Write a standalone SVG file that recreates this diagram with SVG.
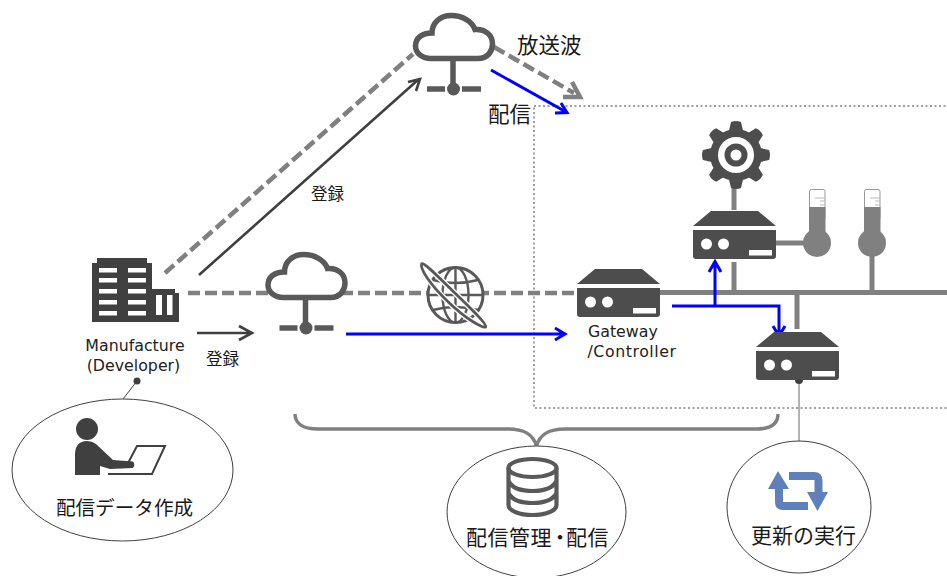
<svg xmlns="http://www.w3.org/2000/svg" width="947" height="576" viewBox="0 0 947 576">
<style>
text{font-family:"Noto Sans CJK JP","DejaVu Sans",sans-serif;fill:#1a1a1a}
.lat{font-family:"DejaVu Sans","Noto Sans CJK JP",sans-serif;font-size:15.800px;fill:#222}
.gbus{stroke:#808080;stroke-width:5;fill:none}
.gd{stroke:#808080;stroke-width:4.500;fill:none;stroke-dasharray:12 5}
.dk{stroke:#404040;stroke-width:2.600;fill:none}
.bl{stroke:#0000ff;stroke-width:3;fill:none}
.oval{fill:#fff;stroke:#404040;stroke-width:1}
.ic{fill:#4d4d4d}
</style>
<defs>
<g id="device">
<path class="ic" d="M18 0H65L83 15H0Z"/>
<path class="ic" d="M0 19H83V45Q83 48 80 48H3Q0 48 0 45Z"/>
<circle cx="13.500" cy="33" r="5.500" fill="#fff"/><circle cx="30.500" cy="33" r="5.500" fill="#fff"/>
<rect x="56" y="39" width="23" height="5.500" fill="#fff"/>
</g>
<g id="cloud">
<path d="M431 58.500H478C488 58.500 492.500 51 492.500 44C492.500 35 485 28.500 475 29.500C472 21 462 15.500 451 15.500C440 15.500 432 23 432 33C422 33 415.500 38 415.500 46C415.500 53 422 58.500 431 58.500Z" fill="#fff" stroke="#595959" stroke-width="5.500"/>
<path d="M453 60V84" stroke="#595959" stroke-width="5.500"/>
<circle cx="453.500" cy="89" r="6.500" fill="#595959"/>
<path d="M427 89H445M462 89H481" stroke="#595959" stroke-width="5.500"/>
</g>
<path id="tooth" class="ic" d="M-5 -33Q0 -35 5 -33L8 -20H-8Z"/>
</defs>
<g id="zone"><rect x="534" y="106" width="440" height="302" fill="none" stroke="#808080" stroke-width="1.500" stroke-dasharray="2 2.500"/></g>
<g id="connectors">
<path class="gd" d="M165 273L413 54"/>
<path class="gd" d="M494 47L574 93"/>
<path d="M563 97H580L572 82" fill="none" stroke="#808080" stroke-width="4.500"/>
<path class="gd" d="M188 293H577"/>
<path class="dk" d="M199 275L419 79M408 82L420 79L416 91"/>
<path class="dk" d="M197 333H252M239 326L252 333L239 340"/>
<path class="gbus" d="M660 292.500H947M734 262V292M797 293V329M734 185V210M775 243H806M872 255V292"/>
<path class="bl" d="M346 334H565M555 328L565 334L555 340"/>
<path class="bl" d="M491 70L567 112.500M555 113L567 112.500L561 103"/>
<path class="bl" d="M672 306H779V336M773 326L779 336L785 326"/>
<path class="bl" d="M715 306V262M709 272L715 261.500L721 272"/>
<path d="M123 399L137 381" stroke="#404040" stroke-width="1" fill="none"/>
<circle cx="137" cy="381" r="3.500" fill="#404040"/>
<path d="M799 381V441" stroke="#808080" stroke-width="1.200" fill="none"/>
<circle cx="799" cy="380" r="4" fill="#404040"/>
<path d="M295 414C295 424 304 429 318 429H508C524 429 533 434 536.500 446C540 434 549 429 565 429H756C770 429 778 424 778 414M536.500 442V448" fill="none" stroke="#808080" stroke-width="3.500"/>
</g>
<g id="cloud-broadcast"><use href="#cloud"/></g>
<g id="cloud-internet"><use href="#cloud" transform="translate(-147.500 239)"/></g>
<g id="manufacture">
<path d="M97 258H147V263H152V289H175V293H179V322H92V263H97Z" fill="#404040"/>
<path d="M99 268h18v4.500h-18zM128 268h18v4.500h-18zM99 278h18v4.500h-18zM128 278h18v4.500h-18zM99 289h18v4.500h-18zM128 289h18v4.500h-18zM99 300h18v4.500h-18zM128 300h18v4.500h-18zM99 311h18v4.500h-18zM128 311h18v4.500h-18zM156 295h6v20h-6zM167 295h5.500v20h-5.500z" fill="#fff"/>
<text class="lat" x="135" y="351" text-anchor="middle">Manufacture</text>
<text class="lat" x="133.500" y="371" text-anchor="middle">(Developer)</text>
</g>
<g id="globe" fill="none" stroke="#595959">
<circle cx="455.500" cy="295" r="27.500" fill="#fff" stroke-width="3"/>
<ellipse cx="455.500" cy="295" rx="13" ry="27.500" stroke-width="2.400"/>
<path d="M455.500 267.500V322.500M428 295H483M433 280Q455 286 478 280M433 310Q455 304 478 310" stroke-width="2.400"/>
<g transform="rotate(44 454 295)">
<path d="M409 295C410 292 430 293 454 293C478 293 498 293 499 296C498 299 480 304 454 304C430 304 411 300 409 295Z" stroke="#fff" stroke-width="5.500"/>
<path d="M409 295C410 292 430 293 454 293C478 293 498 293 499 296C498 299 480 304 454 304C430 304 411 300 409 295Z" stroke-width="2.800"/>
</g>
</g>
<g id="gateway">
<use href="#device" transform="translate(577 269)"/>
<text class="lat" x="588" y="337">Gateway</text>
<text class="lat" x="587.500" y="357" textLength="88.500">/Controller</text>
</g>
<g id="device-gear"><use href="#device" transform="translate(693 211)"/></g>
<g id="device-exec"><use href="#device" transform="translate(756 332)"/></g>
<g id="gear" transform="translate(736 155)">
<circle class="ic" r="26"/>
<use href="#tooth"/><use href="#tooth" transform="rotate(45)"/><use href="#tooth" transform="rotate(90)"/><use href="#tooth" transform="rotate(135)"/><use href="#tooth" transform="rotate(180)"/><use href="#tooth" transform="rotate(225)"/><use href="#tooth" transform="rotate(270)"/><use href="#tooth" transform="rotate(315)"/>
<circle r="18" fill="#fff"/><circle class="ic" r="11.500"/><circle r="5.500" fill="#fff"/>
</g>
<g id="thermo-1">
<rect x="809.500" y="189.500" width="15.500" height="30" rx="2" fill="#fff" stroke="#999" stroke-width="1"/>
<path d="M809 207H825.500V232H809Z" fill="#808080"/><circle cx="817" cy="243" r="14" fill="#808080"/>
<path d="M815 198H825M820 201H825M820 205H825" stroke="#bbb" stroke-width="1"/>
</g>
<g id="thermo-2">
<rect x="864.500" y="189.500" width="15.500" height="30" rx="2" fill="#fff" stroke="#999" stroke-width="1"/>
<path d="M864 207H880.500V232H864Z" fill="#808080"/><circle cx="872" cy="243" r="14" fill="#808080"/>
<path d="M870 198H880M875 201H880M875 205H880" stroke="#bbb" stroke-width="1"/>
</g>
<g id="create">
<ellipse class="oval" cx="122.500" cy="470" rx="110.500" ry="71"/>
<circle cx="87" cy="429" r="11" fill="#404040"/>
<path d="M75 475V455Q75 441 87 441Q92 441 96 444L113 460L133 461.500Q135.500 464.500 133 468L110 469L100 466V475Z" fill="#404040"/>
<path d="M127 465L137 446H165L152 474H108" fill="none" stroke="#404040" stroke-width="2"/>
<text x="124.500" y="515" font-size="19.600" text-anchor="middle">配信データ作成</text>
</g>
<g id="manage">
<ellipse class="oval" cx="536.500" cy="512" rx="89.500" ry="66"/>
<g fill="none" stroke="#595959" stroke-width="4.200">
<ellipse cx="532.500" cy="468" rx="24" ry="9"/>
<path d="M508.500 468V505C508.500 511 520 515 532.500 515C545 515 556.500 511 556.500 505V468M508.500 481C512 488 522 491 532.500 491C543 491 553 488 556.500 481M508.500 493C512 500 522 503 532.500 503C543 503 553 500 556.500 493"/>
</g>
<text x="466 487.500 509 530.500 549.500 566 587.500" y="545" font-size="21">配信管理・配信</text>
</g>
<g id="update">
<ellipse class="oval" cx="799" cy="507" rx="72" ry="66"/>
<path d="M779 486V502Q779 506 783 506H808M789 476H814Q818.500 476 818.500 481V495" fill="none" stroke="#5f80bb" stroke-width="8"/>
<path d="M778 471L789 489H768ZM817.500 511L828 492H807Z" fill="#5f80bb"/>
<text x="803.500" y="543" font-size="21" text-anchor="middle">更新の実行</text>
</g>
<g id="labels">
<text x="517" y="53" font-size="21.500">放送波</text>
<text x="488" y="122" font-size="21.500">配信</text>
<text x="311" y="200" font-size="16.500">登録</text>
<text x="206" y="365" font-size="16.500">登録</text>
</g>
</svg>
